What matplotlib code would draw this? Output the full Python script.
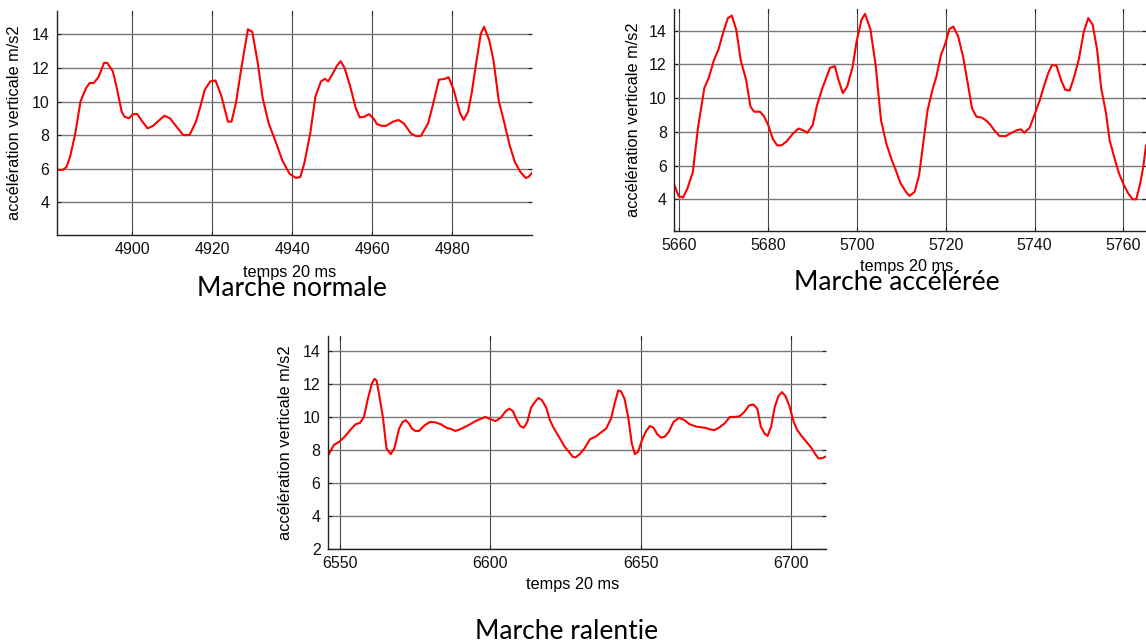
import numpy as np
import matplotlib
matplotlib.use('Agg')
import matplotlib.pyplot as plt

# marche normale
t_norm = [4881, 4882.6, 4883.5, 4884.4, 4885.7, 4887, 4888.4, 4889.3, 4890.3, 4891.5,
          4892.9, 4893.7, 4895.1, 4896, 4897.3, 4898, 4899.1, 4900.2, 4901.2, 4902.5,
          4903.8, 4905.2, 4906.3, 4908, 4909.4, 4910.7, 4912.7, 4914.3, 4915.9, 4917,
          4918.1, 4919.5, 4920.8, 4922.3, 4923.9, 4924.8, 4925.9, 4927.2, 4928.9, 4930,
          4931.3, 4932.6, 4934.1, 4935.7, 4937.5, 4939.3, 4940.9, 4942, 4943, 4944.5,
          4945.8, 4947.2, 4948.2, 4949, 4950, 4951.1, 4952.1, 4953.1, 4954.5, 4955.9,
          4956.9, 4958.1, 4959.2, 4960.3, 4961.2, 4962.4, 4963.5, 4965.2, 4966.6, 4967.9,
          4969.7, 4970.9, 4972.2, 4974, 4975.3, 4976.7, 4978.2, 4979.1, 4980.4, 4982,
          4982.9, 4984, 4984.9, 4986.1, 4987.2, 4988, 4989.3, 4990.4, 4991.7, 4992.9,
          4994.4, 4995.7, 4997.1, 4998.4, 4999.1, 5000]
v_norm = [5.93, 5.93, 6.1, 6.7, 8.1, 10.0, 10.8, 11.1, 11.1, 11.45,
          12.3, 12.3, 11.8, 10.9, 9.4, 9.1, 9.0, 9.25, 9.25, 8.8,
          8.4, 8.55, 8.8, 9.15, 9.0, 8.6, 8.0, 8.0, 8.8, 9.7,
          10.7, 11.2, 11.25, 10.3, 8.8, 8.8, 9.9, 11.9, 14.3, 14.15,
          12.4, 10.2, 8.7, 7.7, 6.5, 5.7, 5.45, 5.5, 6.3, 8.1,
          10.3, 11.2, 11.35, 11.2, 11.6, 12.1, 12.4, 12.0, 10.9, 9.6,
          9.05, 9.1, 9.25, 9.0, 8.65, 8.55, 8.55, 8.8, 8.9, 8.7,
          8.1, 7.95, 7.95, 8.7, 9.9, 11.3, 11.35, 11.45, 10.7, 9.3,
          8.9, 9.4, 10.5, 12.4, 14.05, 14.45, 13.65, 12.4, 10.0, 8.9,
          7.4, 6.4, 5.8, 5.45, 5.5, 5.75]

# marche accélérée
t_acc = [5658.7, 5659.8, 5660.8, 5661.8, 5663, 5664.2, 5665.6, 5666.6, 5667.7, 5668.8,
         5669.8, 5670.9, 5671.8, 5672.8, 5673.8, 5675, 5676, 5676.8, 5678.1, 5679,
         5680, 5681, 5682, 5683, 5684.2, 5685.4, 5686.8, 5687.8, 5688.8, 5690,
         5691, 5692.2, 5693.2, 5693.9, 5695, 5695.8, 5696.8, 5697.8, 5699, 5699.9,
         5701, 5701.8, 5703, 5704.2, 5705.4, 5706.6, 5707.8, 5708.7, 5709.8, 5711,
         5711.8, 5713, 5714, 5715, 5715.9, 5717, 5717.9, 5718.9, 5719.9, 5720.8,
         5721.7, 5722.8, 5723.9, 5725, 5725.9, 5726.9, 5728.1, 5729.2, 5730.1, 5730.9,
         5732.1, 5733.5, 5734.5, 5736, 5736.9, 5737.7, 5738.9, 5740.1, 5741.2, 5742.1,
         5743.1, 5743.9, 5744.9, 5746, 5746.9, 5747.9, 5748.9, 5750, 5751.1, 5752.1,
         5753.1, 5754.1, 5755, 5756.1, 5756.9, 5758.1, 5759, 5760.1, 5761.1, 5762.1,
         5762.9, 5763.8, 5764.5, 5765.1]
v_acc = [4.95, 4.2, 4.1, 4.65, 5.6, 8.3, 10.6, 11.2, 12.2, 12.9,
         13.85, 14.75, 14.9, 14.05, 12.25, 11.1, 9.5, 9.2, 9.2, 8.95,
         8.4, 7.6, 7.2, 7.2, 7.45, 7.85, 8.2, 8.1, 7.95, 8.4,
         9.6, 10.6, 11.3, 11.8, 11.9, 11.1, 10.3, 10.7, 11.85, 13.35,
         14.65, 15.0, 14.1, 11.95, 8.7, 7.3, 6.35, 5.75, 4.95, 4.45,
         4.2, 4.45, 5.45, 7.5, 9.3, 10.5, 11.3, 12.55, 13.25, 14.1,
         14.25, 13.65, 12.45, 10.8, 9.4, 8.9, 8.85, 8.65, 8.4, 8.1,
         7.75, 7.75, 7.9, 8.1, 8.15, 7.95, 8.25, 9.1, 9.9, 10.7,
         11.5, 11.95, 11.95, 11.05, 10.5, 10.45, 11.25, 12.35, 13.95, 14.75,
         14.35, 12.85, 10.6, 9.1, 7.5, 6.35, 5.55, 4.85, 4.35, 4.0,
         4.0, 4.95, 5.95, 7.2]

# marche ralentie
t_ral = [6546, 6546.9, 6548.1, 6549.9, 6551.7, 6553.5, 6555.3, 6556.9, 6558.1, 6559.3,
         6560.7, 6561.6, 6562.3, 6563.2, 6564.4, 6565.6, 6567, 6568.2, 6569.8, 6571,
         6572, 6573.1, 6574, 6575.2, 6576.4, 6578.3, 6580.1, 6581.9, 6583.7, 6585.5,
         6587.3, 6588.5, 6590.3, 6592.8, 6595.2, 6597.2, 6598.4, 6600, 6601.8, 6603.6,
         6605.2, 6606.4, 6607.6, 6608.8, 6610, 6611.2, 6612.4, 6613.6, 6614.9, 6616.1,
         6617.3, 6618.7, 6619.9, 6621.1, 6622.9, 6624.8, 6626.2, 6627.4, 6628.4, 6629.8,
         6631.4, 6633.2, 6635, 6636.8, 6638.6, 6640.2, 6641.4, 6642.6, 6643.5, 6644.7,
         6645.9, 6647.1, 6648.1, 6649.2, 6650.7, 6651.9, 6653.1, 6654.3, 6655.6, 6656.8,
         6658, 6659.4, 6661, 6662.8, 6664.6, 6666.4, 6668.8, 6671.3, 6673.1, 6674.5,
         6676.1, 6677.9, 6679.7, 6681.5, 6683, 6684.5, 6686.1, 6687.5, 6688.8, 6690,
         6691.2, 6692.2, 6693.4, 6694.6, 6695.8, 6697, 6698.2, 6699.4, 6700.9, 6702.1,
         6703.5, 6705.1, 6706.7, 6707.9, 6709.1, 6710.3, 6711.5]
v_ral = [7.6, 7.9, 8.3, 8.5, 8.8, 9.2, 9.55, 9.65, 10.0, 11.0,
         12.0, 12.3, 12.2, 11.3, 10.0, 8.1, 7.75, 8.1, 9.3, 9.7,
         9.8, 9.6, 9.3, 9.15, 9.15, 9.5, 9.7, 9.67, 9.55, 9.35,
         9.25, 9.15, 9.27, 9.5, 9.75, 9.9, 10.0, 9.87, 9.75, 9.95,
         10.35, 10.5, 10.35, 9.85, 9.45, 9.35, 9.7, 10.55, 10.9, 11.15,
         11.0, 10.55, 9.8, 9.35, 8.8, 8.2, 7.9, 7.6, 7.55, 7.75,
         8.1, 8.65, 8.8, 9.05, 9.3, 9.9, 10.8, 11.6, 11.55, 11.1,
         10.0, 8.4, 7.75, 7.9, 8.7, 9.15, 9.45, 9.35, 8.95, 8.75,
         8.8, 9.1, 9.7, 9.95, 9.8, 9.55, 9.4, 9.35, 9.25, 9.2,
         9.35, 9.6, 10.0, 10.0, 10.05, 10.3, 10.7, 10.75, 10.5, 9.4,
         9.0, 8.85, 9.4, 10.6, 11.25, 11.5, 11.25, 10.7, 9.7, 9.2,
         8.85, 8.5, 8.15, 7.8, 7.5, 7.5, 7.6]

W, H = 1146, 642
ylab = 'accélération verticale m/s2'
xlab = 'temps 20 ms'
FONT = 'Liberation Sans'
CAPFONT = 'Lato'

plt.rcParams['font.family'] = FONT
fig = plt.figure(figsize=(W / 100, H / 100), dpi=100)


def box(l, r, t, b):
    # pixel box -> figure fraction
    return [l / W, 1 - b / H, (r - l) / W, (b - t) / H]


def make_ax(pos, t, v, xlim, ylim, xt, yt):
    ax = fig.add_axes(pos)
    ax.plot(t, v, color='red', lw=1.5)
    ax.set_xlim(xlim)
    ax.set_ylim(ylim)
    ax.set_xticks(xt)
    ax.set_yticks(yt)
    ax.xaxis.grid(True, color='#4a4a4a', lw=0.8)
    ax.yaxis.grid(True, color='#7a7a7a', lw=1.0)
    for s in ['top', 'right']:
        ax.spines[s].set_visible(False)
    for s in ['left', 'bottom']:
        ax.spines[s].set_color('#222222')
        ax.spines[s].set_linewidth(1.0)
    ax.tick_params(direction='in', top=True, right=True, length=3, width=0.8,
                   labelsize=11.5, pad=5, colors='#222222', labelcolor='#111111')
    return ax


a1 = make_ax(box(56.5, 532, 11, 235), t_norm, v_norm, (4881, 5000), (2.05, 15.39),
             [4900, 4920, 4940, 4960, 4980], [4, 6, 8, 10, 12, 14])
a2 = make_ax(box(673.7, 1146, 9, 231), t_acc, v_acc, (5658.7, 5765.1), (2.12, 15.29),
             [5660, 5680, 5700, 5720, 5740, 5760], [4, 6, 8, 10, 12, 14])
a3 = make_ax(box(327.5, 825.6, 336, 549.3), t_ral, v_ral, (6546, 6711.5), (2, 14.89),
             [6550, 6600, 6650, 6700], [2, 4, 6, 8, 10, 12, 14])


def ftext(x, y, s, **kw):
    fig.text(x / W, 1 - y / H, s, ha='center', va='center', **kw)


# axis labels
ftext(15, 123, ylab, rotation=90, fontsize=11.8)
ftext(634, 120, ylab, rotation=90, fontsize=11.8)
ftext(285, 443, ylab, rotation=90, fontsize=11.8)
ftext(290, 272, xlab, fontsize=11.7)
ftext(907, 267, xlab, fontsize=11.7)
ftext(573, 584, xlab, fontsize=11.7)

# captions (bottom one sits right on the edge, as in the source)
ftext(292, 289, 'Marche normale', fontsize=19, family=CAPFONT)
ftext(897, 283, 'Marche accélérée', fontsize=19, family=CAPFONT)
ftext(567, 631.5, 'Marche ralentie', fontsize=19, family=CAPFONT)

fig.savefig('out.png', dpi=100)
